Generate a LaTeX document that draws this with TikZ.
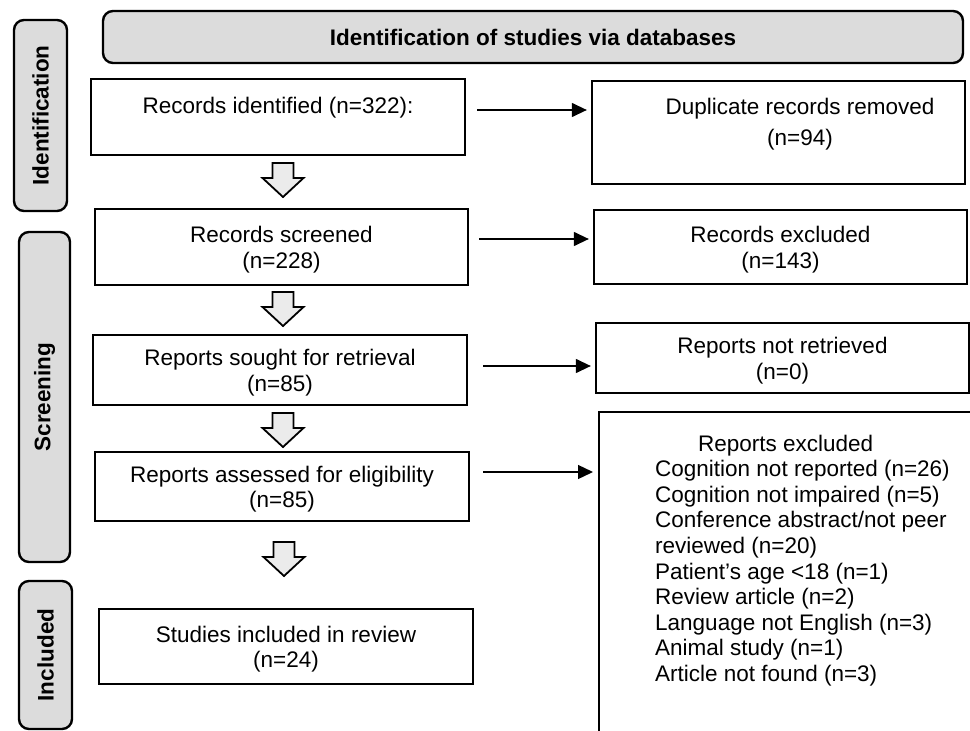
\documentclass[tikz,border=0pt]{standalone}
\usepackage{fontspec}
\setmainfont{Liberation Sans}
\usetikzlibrary{arrows.meta}
\definecolor{sidegray}{HTML}{DCDCDC}
\definecolor{arrowgray}{HTML}{EBEBEB}
\newcommand\fs{\fontsize{22.5bp}{25.6bp}\selectfont}
\newcommand\fsb{\fontsize{22.5bp}{25.6bp}\selectfont\bfseries}
\tikzset{
  box/.style={draw, line width=2.3bp, rectangle, inner sep=0pt},
  txt/.style={inner sep=0pt, align=center, font=\fs},
  sidebox/.style={draw, line width=2.4bp, rounded corners=10bp, fill=sidegray, inner sep=0pt, font=\fsb},
  conn/.style={line width=1.3bp, -{Triangle[length=15bp,width=14bp]}},
  blockarrow/.style={draw, line width=1.8bp, fill=arrowgray, line join=miter},
  downarr/.pic={\draw[blockarrow] (-10.5,0) -- (10.5,0) -- (10.5,15) -- (20.5,15) -- (0,34) -- (-20.5,15) -- (-10.5,15) -- cycle;}
}
% frame node + text node
\newcommand\prismabox[5]{%
  \node[box, minimum width=#3, minimum height=#4] (#1) at (#2) {};
  \node[txt, yshift=-2.5bp] (#1t) at (#1) {#5};}
\begin{document}
\begin{tikzpicture}[x=1bp,y=-1bp]
\useasboundingbox (0,0) rectangle (970,731);
\clip (0,0) rectangle (970,731);

% header
\node[sidebox, minimum width=860bp, minimum height=52bp] (head) at (533,37) {Identification of studies via databases};

% side labels
\node[sidebox, rotate=90, minimum width=191bp, minimum height=53bp] (sideI) at (40.5,115.5) {Identification};
\node[sidebox, rotate=90, minimum width=330bp, minimum height=51bp] (sideS) at (44.5,397) {Screening};
\node[sidebox, rotate=90, minimum width=148bp, minimum height=53bp] (sideInc) at (45.5,655) {Included};

% main column
\node[box, minimum width=374bp, minimum height=76bp] (rid) at (278,117) {};
\node[txt] (ridt) at (278,107.5) {Records identified (n=322):};
\prismabox{rs}{281.5,247}{373bp}{76bp}{Records screened\\(n=228)}
\prismabox{rsr}{280,370}{374bp}{70bp}{Reports sought for retrieval\\(n=85)}
\prismabox{ras}{282,486.5}{374bp}{69bp}{Reports assessed for eligibility\\(n=85)}
\prismabox{sir}{286,646.5}{374bp}{75bp}{Studies included in review\\(n=24)}

% right column
\node[box, minimum width=373bp, minimum height=103bp] (dup) at (778.5,132.5) {};
\node[txt, font=\fontsize{22.5bp}{31bp}\selectfont] (dupt) at (800,124.5) {Duplicate records removed\\(n=94)};
\prismabox{rexc}{780.5,247}{373bp}{74bp}{Records excluded\\(n=143)}
\prismabox{rnr}{782.5,358}{373bp}{70bp}{Reports not retrieved\\(n=0)}
\coordinate (rexTL) at (599,412);
\draw[line width=2.3bp] (980,412) -- (rexTL) -- (599,745);
\node[anchor=north west, inner sep=0pt, align=left, font=\fs] (rext) at (655,433) {\hspace*{43bp}Reports excluded\strut\\
Cognition not reported (n=26)\\
Cognition not impaired (n=5)\\
Conference abstract/not peer\\
reviewed (n=20)\\
Patient’s age <18 (n=1)\\
Review article (n=2)\\
Language not English (n=3)\\
Animal study (n=1)\\
Article not found (n=3)\strut};

% horizontal connectors
\draw[conn, shorten <=11bp, shorten >=4bp] (rid.east |- 0,110) -- (dup.west |- 0,110);
\draw[conn, shorten <=10bp, shorten >=4bp] (rs.east |- 0,239) -- (rexc.west |- 0,239);
\draw[conn, shorten <=15bp, shorten >=4bp] (rsr.east |- 0,366) -- (rnr.west |- 0,366);
\draw[conn, shorten <=13bp, shorten >=6bp] (ras.east |- 0,472) -- (rexTL |- 0,472);

% block arrows
\pic at (283,163) {downarr};
\pic at (283,292) {downarr};
\pic at (283,413) {downarr};
\pic at (284,542) {downarr};
\end{tikzpicture}
\end{document}
